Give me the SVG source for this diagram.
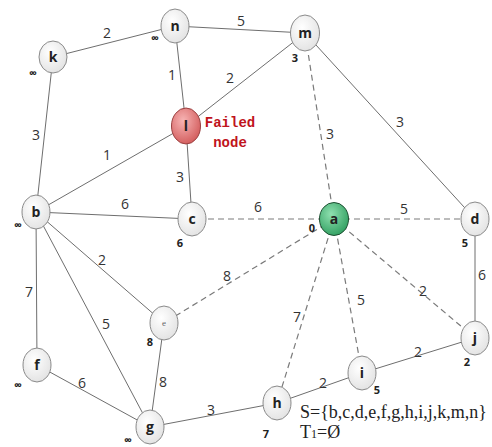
<svg xmlns="http://www.w3.org/2000/svg" width="492" height="447" viewBox="0 0 492 447">
  <defs>
    <radialGradient id="gGrey" cx="40%" cy="35%" r="70%">
      <stop offset="0" stop-color="#ffffff"/>
      <stop offset="1" stop-color="#e2e2e2"/>
    </radialGradient>
    <radialGradient id="gRed" cx="40%" cy="35%" r="70%">
      <stop offset="0" stop-color="#f7b4b4"/>
      <stop offset="1" stop-color="#d25a5a"/>
    </radialGradient>
    <radialGradient id="gGreen" cx="40%" cy="35%" r="70%">
      <stop offset="0" stop-color="#8fe0b0"/>
      <stop offset="1" stop-color="#2f9e5f"/>
    </radialGradient>
  </defs>
  <style>
    .node ellipse { fill: url(#gGrey); stroke: #8a8a8a; stroke-width: 1; }
    .node text { font-family: "Open Sans", "DejaVu Sans", sans-serif; font-weight: bold; font-size: 14px; fill: #222; text-anchor: middle; }
    #l ellipse { fill: url(#gRed); stroke: #9a4040; }
    #a ellipse { fill: url(#gGreen); stroke: #1f4f33; }
    .edge { stroke: #6e6e6e; stroke-width: 1; fill: none; }
    .dash { stroke: #7a7a7a; stroke-width: 1.2; stroke-dasharray: 6 4; fill: none; }
    .w { font-family: "Open Sans", "DejaVu Sans", sans-serif; font-size: 14px; fill: #333; text-anchor: middle; }
    .d { font-family: "Open Sans", "DejaVu Sans", sans-serif; font-size: 11px; font-weight: bold; fill: #222; text-anchor: middle; }
    .fail { font-family: "Liberation Mono", "Courier New", monospace; font-weight: bold; font-size: 14px; fill: #c0141c; text-anchor: middle; }
    .set { font-family: "Liberation Serif", "Times New Roman", serif; font-size: 18px; fill: #222; }
  </style>

  <!-- connectors -->
  <g id="connectors">
    <line class="edge" x1="53" y1="57" x2="175" y2="26"/>
    <line class="edge" x1="175" y1="26" x2="305" y2="33"/>
    <line class="edge" x1="175" y1="26" x2="186" y2="126"/>
    <line class="edge" x1="186" y1="126" x2="305" y2="33"/>
    <line class="edge" x1="53" y1="57" x2="36" y2="212"/>
    <line class="edge" x1="36" y1="212" x2="186" y2="126"/>
    <line class="edge" x1="186" y1="126" x2="192" y2="219"/>
    <line class="edge" x1="36" y1="212" x2="192" y2="219"/>
    <line class="edge" x1="305" y1="33" x2="475" y2="219"/>
    <line class="edge" x1="36" y1="212" x2="164" y2="323"/>
    <line class="edge" x1="36" y1="212" x2="37" y2="365"/>
    <line class="edge" x1="36" y1="212" x2="150" y2="427"/>
    <line class="edge" x1="164" y1="323" x2="150" y2="427"/>
    <line class="edge" x1="37" y1="365" x2="150" y2="427"/>
    <line class="edge" x1="150" y1="427" x2="277" y2="403"/>
    <line class="edge" x1="277" y1="403" x2="362" y2="373"/>
    <line class="edge" x1="362" y1="373" x2="475" y2="338"/>
    <line class="edge" x1="475" y1="219" x2="475" y2="338"/>

    <line class="dash" x1="334" y1="219" x2="305" y2="33"/>
    <line class="dash" x1="334" y1="219" x2="192" y2="219"/>
    <line class="dash" x1="334" y1="219" x2="475" y2="219"/>
    <line class="dash" x1="334" y1="219" x2="164" y2="323"/>
    <line class="dash" x1="334" y1="219" x2="277" y2="403"/>
    <line class="dash" x1="334" y1="219" x2="362" y2="373"/>
    <line class="dash" x1="334" y1="219" x2="475" y2="338"/>

    <!-- edge weights -->
    <text class="w" x="107" y="38">2</text>
    <text class="w" x="241" y="26">5</text>
    <text class="w" x="172" y="80">1</text>
    <text class="w" x="230" y="83">2</text>
    <text class="w" x="36" y="140">3</text>
    <text class="w" x="107" y="160">1</text>
    <text class="w" x="180" y="182">3</text>
    <text class="w" x="125" y="209">6</text>
    <text class="w" x="330" y="139">3</text>
    <text class="w" x="400" y="127">3</text>
    <text class="w" x="258" y="212">6</text>
    <text class="w" x="404" y="214">5</text>
    <text class="w" x="102" y="265">2</text>
    <text class="w" x="227" y="281">8</text>
    <text class="w" x="29" y="297">7</text>
    <text class="w" x="106" y="329">5</text>
    <text class="w" x="163" y="387">8</text>
    <text class="w" x="82" y="388">6</text>
    <text class="w" x="211" y="415">3</text>
    <text class="w" x="297" y="322">7</text>
    <text class="w" x="361" y="305">5</text>
    <text class="w" x="423" y="296">2</text>
    <text class="w" x="482" y="280">6</text>
    <text class="w" x="418" y="357">2</text>
    <text class="w" x="323" y="388">2</text>
  </g>

  <!-- nodes -->
  <g id="k" class="node"><ellipse cx="53" cy="57" rx="14" ry="16"/><text x="53" y="62">k</text></g>
  <g id="n" class="node"><ellipse cx="175" cy="26" rx="14" ry="17"/><text x="175" y="31">n</text></g>
  <g id="m" class="node"><ellipse cx="305" cy="33" rx="14.5" ry="18"/><text x="305" y="38">m</text></g>
  <g id="l" class="node"><ellipse cx="186" cy="126" rx="14.5" ry="18"/><text x="186" y="131">l</text></g>
  <g id="b" class="node"><ellipse cx="36" cy="212" rx="14" ry="17"/><text x="36" y="217">b</text></g>
  <g id="c" class="node"><ellipse cx="192" cy="219" rx="14" ry="17"/><text x="192" y="224">c</text></g>
  <g id="a" class="node"><ellipse cx="334" cy="219" rx="14.5" ry="16.5"/><text x="334" y="224">a</text></g>
  <g id="d" class="node"><ellipse cx="475" cy="219" rx="14" ry="17"/><text x="475" y="224">d</text></g>
  <g id="e" class="node"><ellipse cx="164" cy="323" rx="14" ry="17"/><text x="164" y="326" style="font-family:'Liberation Serif',serif;font-weight:normal;font-size:9px;fill:#666">e</text></g>
  <g id="f" class="node"><ellipse cx="37" cy="365" rx="14" ry="17"/><text x="37" y="370">f</text></g>
  <g id="g" class="node"><ellipse cx="150" cy="427" rx="14" ry="17"/><text x="150" y="432">g</text></g>
  <g id="h" class="node"><ellipse cx="277" cy="403" rx="14" ry="17"/><text x="277" y="408">h</text></g>
  <g id="i" class="node"><ellipse cx="362" cy="373" rx="14" ry="17"/><text x="362" y="378">i</text></g>
  <g id="j" class="node"><ellipse cx="475" cy="338" rx="14" ry="17"/><text x="475" y="343">j</text></g>

  <!-- tentative distances -->
  <text class="d" x="33" y="77">∞</text>
  <text class="d" x="155" y="42">∞</text>
  <text class="d" x="295" y="62">3</text>
  <text class="d" x="18" y="229">∞</text>
  <text class="d" x="180" y="247">6</text>
  <text class="d" x="312" y="232">0</text>
  <text class="d" x="465" y="247">5</text>
  <text class="d" x="150" y="346">8</text>
  <text class="d" x="18" y="389">∞</text>
  <text class="d" x="128" y="444">∞</text>
  <text class="d" x="266" y="438">7</text>
  <text class="d" x="377" y="394">5</text>
  <text class="d" x="467" y="366">2</text>

  <!-- failure note -->
  <text class="fail" x="230" y="127">Failed</text>
  <text class="fail" x="230" y="147">node</text>

  <!-- sets -->
  <text class="set" x="300" y="418">S={b,c,d,e,f,g,h,i,j,k,m,n}</text>
  <text class="set" x="300" y="438">T<tspan font-size="12">1</tspan>=Ø</text>
</svg>
